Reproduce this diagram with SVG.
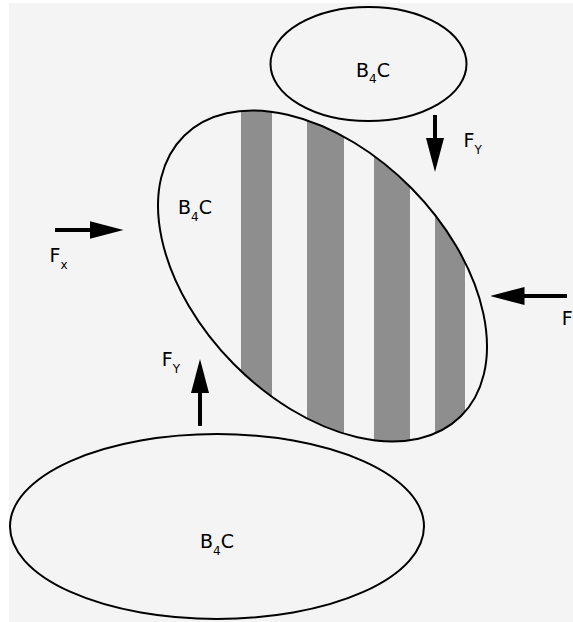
<svg xmlns="http://www.w3.org/2000/svg" width="573" height="622" viewBox="0 0 573 622">
  <style>
    .outline { fill: none; stroke: #000; stroke-width: 2; }
    .bar { fill: #8e8e8e; }
    .lbl { font-family: "DejaVu Sans", Verdana, sans-serif; font-size: 19px; fill: #000; }
    .sub { font-size: 12px; }
    .force { stroke: #000; stroke-width: 4; fill: none; marker-end: url(#head); }
  </style>
  <defs>
    <marker id="head" viewBox="0 0 34 18" refX="10" refY="9" markerWidth="34" markerHeight="18" markerUnits="userSpaceOnUse" orient="auto">
      <path d="M0,0 L34,9 L0,18 Z" fill="#000"/>
    </marker>
    <clipPath id="grainClip">
      <ellipse cx="322.5" cy="276" rx="197" ry="125" transform="rotate(45.4 322.5 276)"/>
    </clipPath>
  </defs>

  <rect x="0" y="0" width="573" height="622" fill="#ffffff"/>
  <rect x="9" y="3" width="564" height="619" fill="#f4f4f4"/>

  <g id="node-top-b4c">
    <ellipse class="outline" cx="368.5" cy="64" rx="98" ry="57"/>
    <text class="lbl" x="356" y="76.5">B<tspan class="sub" dy="6.5">4</tspan><tspan dy="-6.5">C</tspan></text>
  </g>

  <g id="node-center-grain">
    <g clip-path="url(#grainClip)">
      <rect class="bar" x="241" y="90" width="31" height="370"/>
      <rect class="bar" x="307" y="90" width="37" height="370"/>
      <rect class="bar" x="374" y="90" width="36" height="370"/>
      <rect class="bar" x="435" y="90" width="30" height="370"/>
    </g>
    <ellipse class="outline" cx="322.5" cy="276" rx="197" ry="125" transform="rotate(45.4 322.5 276)"/>
    <text class="lbl" x="178" y="214">B<tspan class="sub" dy="6.5">4</tspan><tspan dy="-6.5">C</tspan></text>
  </g>

  <g id="node-bottom-b4c">
    <ellipse class="outline" cx="217" cy="526.5" rx="207" ry="92.5"/>
    <text class="lbl" x="200" y="548">B<tspan class="sub" dy="6.5">4</tspan><tspan dy="-6.5">C</tspan></text>
  </g>

  <g id="connectors">
    <line class="force" x1="55" y1="230" x2="99.5" y2="230"/>
    <text class="lbl" x="49.5" y="262">F<tspan class="sub" dy="7">x</tspan></text>

    <line class="force" x1="567" y1="296" x2="514.5" y2="296"/>
    <text class="lbl" x="561.8" y="325">F</text>

    <line class="force" x1="435" y1="115" x2="435" y2="148"/>
    <text class="lbl" x="463.5" y="146.5">F<tspan class="sub" dy="7">Y</tspan></text>

    <line class="force" x1="200" y1="426" x2="200" y2="383"/>
    <text class="lbl" x="161.8" y="366">F<tspan class="sub" dy="6.5">Y</tspan></text>
  </g>
</svg>
